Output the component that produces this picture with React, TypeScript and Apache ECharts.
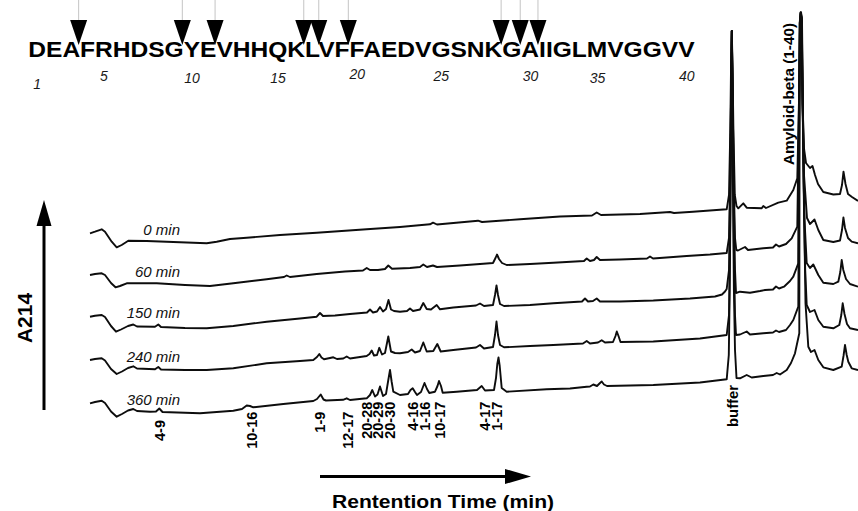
import React, { useEffect, useRef } from 'react';
import * as echarts from 'echarts';

// ---------- data ----------
const SEQUENCE = 'DEAFRHDSGYEVHHQKLVFFAEDVGSNKGAIIGLMVGGVV';
const RESIDUE_NUMBERS = [1, 5, 10, 15, 20, 25, 30, 35, 40];
const CLEAVAGE_AFTER = [3, 9, 11, 16, 17, 19, 28, 29, 30];
const TRACE_NAMES = ['0 min', '60 min', '150 min', '240 min', '360 min'];
// vertical stacking offsets of the chromatograms (absorbance units)
const TRACE_OFFSETS = [277.7, 236, 194.3, 151, 107.7];

// [retention time index, A214]
const TRACE_0 = [
  [0, 0], [5, 1.6], [11.7, 4], [15, 1.6], [21.7, -8.4], [26.7, -14], [31.7, -11.7], [38.3, -7.4], [56.7, -7.7], [90, -9],
  [116.7, -10], [126.7, -8.4], [140, -5.7], [156.7, -4.4], [190, -1.7], [226.7, 0.6], [276.7, 4], [310, 6.3], [340, 9],
  [343, 10.6], [347, 8.8], [388, 12.6], [392, 11.3], [430, 14], [470, 16.8], [502, 17.8], [506.7, 20.8], [511, 18.3],
  [550, 19.3], [580, 21.3], [584, 20.3], [603, 21.6], [636.7, 24],
  [639, 38.3], [640.3, 103.3], [641, 163.3], [641.8, 202.3], [642.6, 163.3], [643.4, 103.3], [644.8, 38.3], [646.5, 27.3],
  [648.3, 25], [653.3, 30], [656.7, 25.6], [671.7, 25], [673.3, 27.3], [676, 25.3], [688.3, 30.6], [696.7, 32.6],
  [703.3, 43.3], [707.3, 55],
  [709, 133.3], [709.7, 210], [710.5, 220.8], [711.5, 215], [712.5, 130], [714, 85], [716, 70.3], [720, 65.3],
  [722.5, 67.3], [725, 58.3], [728, 49.3], [733.3, 41.3], [743.3, 38.8], [750, 39.3], [752, 48.3], [753.5, 61.6],
  [755.5, 49.3], [758, 39.3], [762, 36.3], [768, 32.3],
];
const TRACE_1 = [
  [0, 0], [5, 1], [11.7, 1.7], [15, 0], [21, -8], [25.5, -12.3], [30, -11], [36.7, -8.3], [66.7, -8.3], [95, -10],
  [120, -11], [143.3, -8.3], [176.7, -4.3], [194, -2], [196.7, -0.5], [200, -2], [226.7, 1], [255, 3.5], [273, 4.5],
  [276.7, 7], [280, 5], [288, 5], [295, 6], [298.3, 9.5], [302, 6.3], [320, 7], [330, 8], [333.3, 10.5], [337, 8],
  [343, 9.5], [347, 8], [370, 9.5], [390, 11], [403, 12], [405.5, 17], [407, 20.5], [409, 16], [412, 12], [416.7, 10],
  [440, 11], [463.3, 12.3], [494, 14], [496.7, 16.5], [500, 14], [504, 15], [506.7, 18], [510, 15], [530, 15.5],
  [557, 16.5], [560, 18.5], [563, 16.5], [596.7, 19], [620, 20.5], [636.7, 22],
  [639, 37], [640.2, 95], [641, 175], [641.8, 244], [642.7, 175], [643.7, 95], [645, 37], [646.3, 25],
  [648, 24.5], [655, 28], [658, 25], [673.3, 26.7], [683, 27.5], [686, 30.5], [689, 28.5], [696, 31], [701.7, 36.7],
  [707.3, 48.3],
  [709.1, 175], [709.8, 252], [710.6, 262], [711.6, 256], [712.6, 170], [714, 100], [717, 57], [720, 51], [724.5, 55.5],
  [728.3, 45], [733.3, 35], [743.3, 33], [750, 34.5], [752, 45], [753.4, 57.5], [755, 47], [758, 37], [761.7, 33.3],
  [768, 31.7],
];
const TRACE_2 = [
  [0, 0], [5, 1], [11.7, 1.7], [15, -0.3], [21, -9.3], [26, -15], [31, -12.8], [38, -9.3], [43.3, -7.8], [47, -9.8],
  [65, -10], [68.3, -7.8], [71, -10.3], [95, -11.3], [116.7, -11.6], [143.3, -9.3], [176.7, -5], [210, -1.8], [226.7, 0],
  [230, 3.7], [233, 0.7], [245, 1.2], [260, 2.7], [277, 4.2], [280, 7.2], [283, 4.2], [287, 5.2], [290, 9.7], [293, 5.2],
  [296, 7.7], [298.5, 16.7], [301, 7.2], [304, 5.7], [310, 5], [317, 5.7], [320, 8.2], [323, 5.7], [330, 7.2],
  [333.3, 13.7], [336.7, 7.7], [341, 7.2], [346.7, 11.7], [350, 7.4], [363.3, 9.2], [386, 11.2], [390, 13.2], [394, 10.7],
  [403, 11.7], [405, 21.7], [406.5, 31.2], [408, 21.7], [410, 12.7], [414, 10.7], [440, 11.7], [463.3, 13.4], [492, 15.2],
  [495, 18.2], [498, 15.2], [503, 15.7], [506.7, 18.2], [510, 15.2], [530, 15.2], [563.3, 16.2], [600, 18.2], [625, 20.2],
  [632, 22.2], [635, 25.2], [636.7, 27.7],
  [639, 46.7], [640, 116.7], [641, 216.7], [641.8, 285.7], [642.8, 216.7], [643.8, 116.7], [645, 46.7], [646, 23.7],
  [650, 25], [660, 24], [670, 25.7], [675, 26.7], [683, 27.2], [686, 30.2], [689, 28.2], [694, 30], [700, 35.7],
  [703.3, 40], [708.3, 53.4],
  [709.3, 216.7], [709.9, 294], [710.8, 304.2], [711.7, 298], [712.7, 210], [713.5, 140], [714.5, 96.7], [716.7, 53.7],
  [720, 48.7], [723.3, 52.2], [728.3, 41.7], [733.3, 34], [743.3, 32.7], [748.3, 35], [750.3, 44.7], [751.7, 56.7],
  [753.3, 46.7], [756, 37.7], [760, 32.7], [768, 30],
];
const TRACE_3 = [
  [0, 0], [5, 1], [11.7, 1.7], [15, -0.5], [21, -9], [26.7, -14], [32, -11.5], [38, -8], [43.3, -6.3], [47, -8.5],
  [65, -9.3], [68.3, -7], [71, -9.5], [95, -10], [116.7, -10], [143.3, -8.3], [176.7, -3.3], [210, -1], [223.3, 0],
  [227, 3], [229.3, 6], [231.5, 2.5], [234, 0.7], [240, 2], [243.3, 2.7], [247, 1], [253.3, 1.5], [256.7, 3.5], [260, 1.5],
  [276.7, 4], [279.5, 6], [281.7, 9.5], [284, 4.5], [287, 5], [289.3, 12.2], [292, 5.5], [295, 7], [298.3, 23.5],
  [301, 8.5], [305, 7], [310, 6.7], [318, 8], [321.7, 10.5], [325, 7.5], [330, 9], [333.3, 17.5], [336.7, 8.5],
  [343.3, 9], [347.3, 16], [350.7, 8.5], [363.3, 10], [386, 12.5], [390, 15], [394, 11.5], [403, 13], [405, 25],
  [406.5, 38.5], [408, 25], [410, 15], [414, 12.7], [440, 14], [463.3, 15], [493, 16.5], [496.7, 19], [500, 16.5],
  [508, 17.5], [511.7, 19.8], [515, 17.5], [523, 18], [525.5, 24], [526.8, 28.5], [528.5, 24], [530.5, 18],
  [563.3, 18.5], [610, 21.5], [636.7, 25],
  [639, 45], [639.9, 110], [640.8, 210], [641.3, 280], [641.8, 329], [642.4, 280], [643, 210], [643.9, 110], [645, 45],
  [646, 25],
  [650, 25.5], [656.7, 28.5], [660, 25.5], [673.3, 26.7], [683, 27.5], [686, 29.5], [689, 28], [696, 30], [700, 35],
  [703.3, 40], [708.3, 53.3],
  [709.4, 260], [710, 337], [710.9, 347.5], [711.8, 340], [712.8, 250], [714, 150], [715.2, 90], [716.7, 55], [720, 48],
  [724.5, 50], [728.3, 40], [733.3, 33.3], [743.3, 31.7], [749.3, 35], [751.3, 45], [752.7, 56.7], [754.5, 46],
  [757, 36], [760, 31.7], [768, 30],
];
const TRACE_4 = [
  [0, 0], [5, 1.3], [11.7, 2.6], [15, 0.3], [21, -8.2], [26.7, -13.4], [32, -10.7], [38, -7.2], [43.3, -5.7], [47, -7.7],
  [60, -8.4], [66, -8.2], [69.3, -5.2], [72.5, -8.7], [110, -10], [143.3, -7.4], [152, -5.7], [156.7, -2.2], [160, -2.7],
  [163.3, -4], [193.3, -0.7], [223.3, 2.3], [227, 4.3], [230.7, 8.8], [233.5, 3.8], [236, 2.8], [253, 3.5], [256.7, 5],
  [260, 3.3], [276.7, 5], [280, 8.3], [282.3, 13.3], [285, 6.8], [287.5, 8.8], [290, 16.8], [293, 7.3], [296, 9.3],
  [298.3, 23.3], [300, 33.3], [301.7, 21.3], [303.3, 11.6], [310, 8.3], [318, 9.3], [320.5, 13.3], [322.7, 15],
  [325, 11.3], [327, 8.3], [331, 11.3], [334.5, 20.3], [337, 14.3], [339.3, 10.3], [345, 11.6], [347.5, 17.3],
  [349, 22.3], [351, 17.3], [352.7, 10.6], [366.7, 11.6], [387, 13.3], [391.7, 17.3], [395, 12.8], [404, 13.3],
  [406, 25.3], [407.3, 39.3], [408.5, 45.8], [409.7, 37.3], [411.7, 15.3], [416.7, 11.6], [456.7, 14], [480, 14.8],
  [496.7, 16.6], [500, 16.8], [503.3, 18.8], [507, 17.3], [509.5, 19.8], [511.7, 21.8], [514, 18.8], [517, 17.3],
  [563.3, 18.3], [610, 20.8], [636.7, 24],
  [638.8, 48.3], [639.7, 113.3], [640.6, 213.3], [641.2, 303.3], [641.8, 372.3], [642.4, 303.3], [643, 213.3],
  [643.9, 113.3], [645, 53.3], [646.5, 25.3],
  [650, 25], [656.7, 28.3], [661.7, 25.8], [673.3, 27.3], [683, 28.3], [686.7, 30.3], [690, 28.8], [696.7, 33.3],
  [701, 40.3], [705, 50], [709.3, 70],
  [709.6, 300], [710.2, 380], [711.1, 390.8], [712, 383], [713, 290], [714.3, 180], [715.5, 100], [718.3, 56.6],
  [721, 51.3], [724.5, 53.3], [728.3, 43.3], [733.3, 36], [743.3, 33.3], [751.7, 36.6], [753.5, 47.3], [755, 58.3],
  [756.7, 48.3], [758.3, 41.6], [761.7, 35], [768, 33.3],
];

const PEAK_LABELS = ['4-9', '10-16', '1-9', '12-17', '20-28', '20-29', '20-30', '4-16', '1-16', '10-17', '4-17', '1-17', 'buffer', 'Amyloid-beta (1-40)'];
const PEAK_TIMES = [70, 161.7, 230, 258.3, 276.7, 288.3, 300, 323.3, 335, 350, 395, 406.7, 643, 698];

// ---------- layout ----------
const FONT = '"Liberation Sans", Arial, Helvetica, sans-serif';
const SEQ_LEFT = 28.3;
const SEQ_WIDTH = 666.7;
const SEQ_Y = 49.5;
const SEQ_FONT = 22;
const NUMBER_Y = [84, 76, 78, 77.5, 74, 76, 76, 77.5, 76];
const PEAK_LABEL_TOP = [420, 411.7, 411.7, 411.7, 401.7, 401.7, 401.7, 401.7, 401.7, 401.7, 401.7, 401.7, 385, 23];
const PEAK_LABEL_SIZE = [14.5, 14.5, 14.5, 14.5, 14.5, 14.5, 14.5, 14.5, 14.5, 14.5, 14.5, 14.5, 14.8, 15.3];

function txt(extra: any) {
  const s = extra.style;
  if (s.align) s.textAlign = s.align;
  if (s.verticalAlign) s.textVerticalAlign = s.verticalAlign;
  s.fontFamily = FONT;
  return { type: 'text', silent: true, ...extra };
}

export default function App() {
  const ref = useRef<HTMLDivElement>(null);
  useEffect(() => {
    const el = ref.current!;
    const chart = echarts.init(el, undefined, { renderer: 'svg' });
    const traces = [TRACE_0, TRACE_1, TRACE_2, TRACE_3, TRACE_4];
    const series = traces.map((t, i) => ({
      type: 'line',
      name: TRACE_NAMES[i],
      data: t.map(([rt, a]) => [rt, a + TRACE_OFFSETS[i]]),
      symbol: 'none',
      showSymbol: false,
      silent: true,
      clip: false,
      lineStyle: { color: '#0d0d0d', width: 1.9, join: 'round' },
    }));
    chart.setOption({
      animation: false,
      grid: { left: 90, right: 0, top: 0, bottom: 0 },
      xAxis: { type: 'value', min: 0, max: 768, show: false },
      yAxis: { type: 'value', min: 0, max: 511, show: false },
      series,
    });

    const toPx = (rt: number, v: number) => chart.convertToPixel({ gridIndex: 0 }, [rt, v]) as number[];

    // measure the sequence for residue positions
    const ctx = document.createElement('canvas').getContext('2d')!;
    ctx.font = `bold ${SEQ_FONT}px ${FONT}`;
    const fullW = ctx.measureText(SEQUENCE).width;
    const sx = SEQ_WIDTH / fullW;
    const xAfter = (n: number) => SEQ_LEFT + sx * ctx.measureText(SEQUENCE.slice(0, n)).width;

    const elements: any[] = [];
    elements.push(txt({
      x: SEQ_LEFT, y: SEQ_Y, scaleX: sx,
      style: { text: SEQUENCE, x: 0, y: 0, fontSize: SEQ_FONT, fontWeight: 'bold', fill: '#000', align: 'left', verticalAlign: 'middle' },
    }));
    RESIDUE_NUMBERS.forEach((n, i) => {
      const cx = (xAfter(n - 1) + xAfter(n)) / 2;
      elements.push(txt({
        x: cx, y: NUMBER_Y[i],
        style: { text: String(n), x: 0, y: 0, fontSize: 14, fontStyle: 'italic', fill: '#1a1a1a', align: 'center', verticalAlign: 'middle' },
      }));
    });
    CLEAVAGE_AFTER.forEach((n) => {
      const cx = xAfter(n) - 1.5;
      elements.push({ type: 'line', silent: true, shape: { x1: cx, y1: 0, x2: cx, y2: 21 }, style: { stroke: '#c4c4c4', lineWidth: 1 } });
      elements.push({ type: 'polygon', silent: true, shape: { points: [[cx - 8.5, 20], [cx + 8.5, 20], [cx, 45]] }, style: { fill: '#000' } });
    });

    // A214 axis arrow
    elements.push({ type: 'line', silent: true, shape: { x1: 44, y1: 410, x2: 44, y2: 222 }, style: { stroke: '#000', lineWidth: 3 } });
    elements.push({ type: 'polygon', silent: true, shape: { points: [[36.5, 226], [44, 200], [51.5, 226]] }, style: { fill: '#000' } });
    elements.push(txt({
      x: 24, y: 318, rotation: Math.PI / 2,
      style: { text: 'A214', x: 0, y: 0, fontSize: 21, fontWeight: 'bold', fill: '#000', align: 'center', verticalAlign: 'middle' },
    }));

    // time arrow
    elements.push({ type: 'line', silent: true, shape: { x1: 320, y1: 476.5, x2: 508, y2: 476.5 }, style: { stroke: '#000', lineWidth: 3 } });
    elements.push({ type: 'polygon', silent: true, shape: { points: [[505, 469], [531, 476.5], [505, 484]] }, style: { fill: '#000' } });
    elements.push(txt({
      x: 443, y: 501, scaleX: 1.11,
      style: { text: 'Rentention Time (min)', x: 0, y: 0, fontSize: 19, fontWeight: 'bold', fill: '#000', align: 'center', verticalAlign: 'middle' },
    }));

    // trace names
    TRACE_NAMES.forEach((name, i) => {
      const [, py] = toPx(0, TRACE_OFFSETS[i]);
      elements.push(txt({
        x: 180, y: py - 4,
        style: { text: name, x: 0, y: 0, fontSize: 15, fontStyle: 'italic', fill: '#111', align: 'right', verticalAlign: 'middle' },
      }));
    });

    // peak labels
    PEAK_LABELS.forEach((lab, i) => {
      const [px] = toPx(PEAK_TIMES[i], 0);
      elements.push(txt({
        x: px, y: PEAK_LABEL_TOP[i], rotation: Math.PI / 2,
        style: { text: lab, x: 0, y: 0, fontSize: PEAK_LABEL_SIZE[i], fontWeight: 'bold', fill: '#000', align: 'right', verticalAlign: 'middle' },
      }));
    });

    chart.setOption({ graphic: { elements } });
    return () => chart.dispose();
  }, []);
  return <div ref={ref} style={{ position: 'fixed', left: 0, top: 0, width: 858, height: 511, background: '#fff' }} />;
}
